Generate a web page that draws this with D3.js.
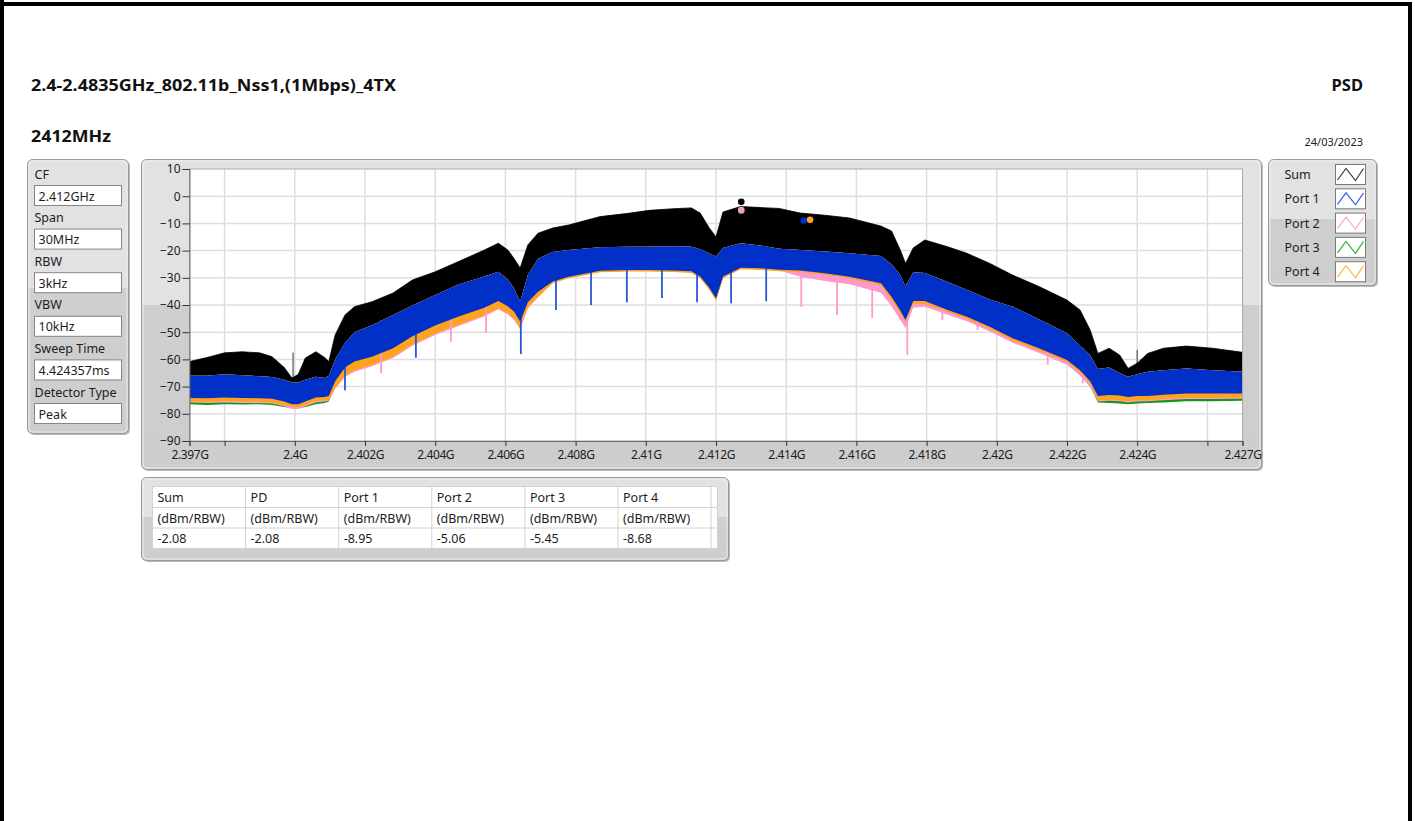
<!DOCTYPE html>
<html>
<head>
<meta charset="utf-8">
<script src="https://cdn.jsdelivr.net/npm/d3@7"></script>
<style>
  html, body { margin: 0; padding: 0; background: #ffffff; }
  svg { display: block; font-family: "Noto Sans", "Open Sans", sans-serif; }
</style>
</head>
<body>
<svg id="chart" width="1415" height="821"></svg>
<script>
// ---- Spectrum data (frequency in MHz, levels in dBm/RBW) ----
const freqMHz = [2397.00, 2397.5, 2398.0, 2398.5, 2399.0, 2399.35, 2399.7, 2399.92, 2400.1, 2400.3,
  2400.6, 2400.85, 2400.97, 2401.15, 2401.43, 2401.7, 2402.2, 2402.8, 2403.35, 2404.0,
  2404.65, 2405.4, 2405.8, 2406.07, 2406.25, 2406.42, 2406.64, 2406.93, 2407.35, 2407.8,
  2408.7, 2409.5, 2410.1, 2410.8, 2411.3, 2411.55, 2411.8, 2412.0, 2412.2, 2412.7,
  2413.3, 2413.8, 2414.4, 2415.1, 2415.8, 2416.7, 2417.0, 2417.25, 2417.4, 2417.62,
  2417.95, 2418.6, 2419.15, 2419.8, 2420.45, 2421.2, 2422.0, 2422.37, 2422.66, 2422.88,
  2423.2, 2423.5, 2423.74, 2424.0, 2424.3, 2424.75, 2425.4, 2426.15, 2427.0];

// Sum trace, upper envelope
const sumTop = [-60.8, -59.3, -57.6, -57.2, -57.6, -59, -63, -66.9, -65.5, -59.5,
  -57.2, -59.3, -60.8, -51, -43.7, -40.6, -38.8, -35.6, -30.8, -27.8,
  -24.1, -19.8, -17.3, -19.8, -23, -26.4, -17.9, -13.6, -11.7, -10.6,
  -7.5, -6.3, -5.2, -4.6, -4.3, -6.2, -11.5, -15, -5.8, -3.8,
  -4.2, -4.5, -6.2, -7, -8, -11, -12.8, -19.8, -24.7, -19,
  -16.1, -18.6, -21, -24.7, -29, -33.2, -38.2, -41.8, -49.2, -57.8,
  -55.9, -58.4, -63.3, -61.4, -57.8, -55.9, -55.1, -55.9, -57.4];

// Port 1 trace, upper and lower envelopes
const port1Top = [-66, -66, -65.5, -65.8, -66.2, -66.5, -67.5, -68.5, -68.5, -67.5,
  -66.4, -66.8, -66, -60, -54, -50, -47.4, -43.7, -40.2, -36.3,
  -32.6, -29.5, -27.8, -30.5, -34, -38.8, -29, -23, -20.5, -19.8,
  -18.8, -18.6, -18.6, -18.4, -18.6, -19.5, -21, -22.2, -19, -17.3,
  -18.2, -19.3, -19.8, -20.3, -21, -22, -25, -29, -33.3, -28,
  -28.2, -31.5, -34.5, -38, -40.6, -45.2, -50.4, -55, -58.5, -63.5,
  -63, -65, -66.4, -65.5, -64.5, -64, -63.3, -64, -64.5];
const port1Bottom = [-74.2, -74.3, -74, -74.2, -74.3, -74.5, -75.5, -76.5, -76.5, -75.5,
  -74, -73.8, -73.5, -68, -63, -60.8, -59, -55.9, -51.5, -47.5,
  -44.3, -41, -38.5, -40.5, -42.5, -46.1, -39, -35.1, -31.4, -29.6,
  -27.4, -27.1, -27.1, -27.3, -27.6, -29.5, -33.5, -37.5, -29.5, -26.3,
  -26.5, -27, -27.3, -28.3, -29.6, -32, -37, -42, -45.5, -38.5,
  -38.5, -41.8, -44.3, -48, -52.2, -55.9, -60.2, -64, -68, -73.5,
  -73.1, -73.3, -73.8, -73.5, -73.5, -73, -72.5, -72.5, -72.5];

// Ports 2-4, lower envelopes (their upper parts lie under Port 1)
const port2Bottom = [-75.8, -76, -75.8, -76, -76, -76.2, -77.2, -78.2, -78.2, -77.2,
  -75.8, -75.5, -75.2, -70.8, -66.5, -64.5, -62.5, -59.5, -55, -51,
  -47.8, -44.2, -41.6, -43.5, -45.5, -49, -41.2, -37.2, -31.7, -29.9,
  -27.7, -27.4, -27.4, -27.6, -27.9, -29.8, -33.8, -37.8, -29.8, -26.6,
  -26.8, -27.3, -29.6, -31.2, -32.4, -35.5, -40.5, -45.5, -48.5, -41,
  -40.6, -43.6, -46, -49.7, -53.9, -57.6, -62, -65.8, -70, -75.5,
  -75.2, -75.4, -75.8, -75.5, -75.4, -75, -74.6, -74.6, -74.5];
const port3Bottom = [-76.5, -76.8, -76.5, -76.6, -76.5, -76.8, -77.5, -78, -78, -77.5,
  -76.5, -76, -75.5, -70, -64.5, -62, -60, -56.8, -52.5, -48.5,
  -45.2, -41.8, -39.2, -41.2, -43.4, -47, -39.8, -35.9, -31.8, -30,
  -27.8, -27.5, -27.5, -27.7, -28, -29.9, -33.9, -37.9, -29.9, -26.7,
  -26.9, -27.4, -27.7, -28.7, -30, -32.4, -38.5, -43.2, -46.5, -39.6,
  -39.7, -43, -45.6, -49.4, -53.6, -57.4, -61.8, -65.8, -70, -75.8,
  -76, -76.2, -76.5, -76.2, -76, -75.8, -75.4, -75.4, -75.2];
const port4Bottom = [-75.5, -75.6, -75.3, -75.5, -75.6, -75.8, -76.8, -77.5, -77.6, -76.8,
  -75.3, -75, -74.8, -70.5, -66, -64, -62, -59, -54.5, -50.5,
  -47.3, -43.8, -41.2, -43, -45, -48.5, -41, -37, -32, -30.2,
  -28, -27.7, -27.7, -27.9, -28.2, -30.2, -34.3, -38.3, -30.2, -26.9,
  -27.1, -27.6, -27.9, -28.9, -30.2, -32.7, -38.2, -43, -46.6, -39.6,
  -39.6, -42.6, -45.1, -48.8, -53, -56.7, -61, -64.8, -68.8, -75,
  -74.8, -75, -75.4, -75, -75, -74.6, -74.1, -74.1, -74];

// Narrow downward spurs below the band
const spurFreq = [2401.43, 2402.46, 2403.45, 2404.45, 2405.45, 2406.44, 2407.44, 2408.44, 2409.46, 2410.46,
  2411.46, 2412.43, 2413.43, 2414.43, 2415.45, 2416.45, 2417.45, 2418.45, 2419.45, 2420.45, 2421.45, 2422.45];
const spurLevel = [-71.3, -65, -59.4, -53.6, -50.3, -58, -41.8, -40, -39, -37.4,
  -39, -39.4, -38.6, -40.7, -43.7, -44.8, -58.4, -45.5, -49.2, -53.5, -62, -68.8];
const spurPort = [1, 2, 1, 2, 2, 1, 1, 1, 1, 1, 1, 1, 1, 2, 2, 2, 2, 2, 2, 4, 2, 2];

// Short upward glitches on the Sum envelope
const sumGlitchFreq = [2399.95, 2424.0];
const sumGlitchLevel = [-57.5, -56.5];

// Peak markers
const markerPort = [0, 3, 2, 1, 4];
const markerFreq = [2412.72, 2412.72, 2412.72, 2414.5, 2414.68];
const markerLevel = [-2.08, -5.45, -5.06, -8.95, -8.68];

// Series names and colours
const seriesNames = ["Sum", "Port 1", "Port 2", "Port 3", "Port 4"];
const seriesColors = ["#000000", "#0030c8", "#ff99cc", "#119911", "#ffa31a"];
const legendColors = ["#3a3a3a", "#3a5ee6", "#ffa6d6", "#38b038", "#ffb44a"];

// Axis ticks
const yTicks = [10, 0, -10, -20, -30, -40, -50, -60, -70, -80, -90];
const xTicks = [2397, 2398, 2400, 2402, 2404, 2406, 2408, 2410, 2412, 2414, 2416, 2418, 2420, 2422, 2424, 2426, 2427];
const xTickLabels = ["2.397G", "", "2.4G", "2.402G", "2.404G", "2.406G", "2.408G", "2.41G", "2.412G",
  "2.414G", "2.416G", "2.418G", "2.42G", "2.422G", "2.424G", "", "2.427G"];

// Instrument settings
const settingLabels = ["CF", "Span", "RBW", "VBW", "Sweep Time", "Detector Type"];
const settingValues = ["2.412GHz", "30MHz", "3kHz", "10kHz", "4.424357ms", "Peak"];

// Result table
const tableHeader = ["Sum", "PD", "Port 1", "Port 2", "Port 3", "Port 4"];
const tableUnits = ["(dBm/RBW)", "(dBm/RBW)", "(dBm/RBW)", "(dBm/RBW)", "(dBm/RBW)", "(dBm/RBW)"];
const tableValues = ["-2.08", "-2.08", "-8.95", "-5.06", "-5.45", "-8.68"];

// ---- Drawing ----
const svg = d3.select("#chart");
const textColor = "#1f1b24";
const defs = svg.append("defs");

const grad = defs.append("linearGradient").attr("id", "panelFill")
  .attr("x1", 0).attr("y1", 0).attr("x2", 0).attr("y2", 1);
[["0%", "#e2e2e2"], ["47%", "#e2e2e2"], ["47%", "#cfcfcf"], ["100%", "#cdcdcd"]]
  .forEach(([o, c]) => grad.append("stop").attr("offset", o).attr("stop-color", c));

// Page frame
svg.append("rect").attr("x", 0).attr("y", 0).attr("width", 1415).attr("height", 821).attr("fill", "#fff");
svg.append("rect").attr("x", 0).attr("y", 2).attr("width", 1412).attr("height", 4).attr("fill", "#000");
svg.append("rect").attr("x", 0).attr("y", 0).attr("width", 4).attr("height", 821).attr("fill", "#000");
svg.append("rect").attr("x", 1408).attr("y", 2).attr("width", 4).attr("height", 819).attr("fill", "#000");

// Headings
svg.append("text").attr("x", 31).attr("y", 91).attr("font-size", 16.5).attr("font-weight", 700)
  .attr("fill", "#111").attr("textLength", 365).attr("lengthAdjust", "spacingAndGlyphs")
  .text("2.4-2.4835GHz_802.11b_Nss1,(1Mbps)_4TX");
svg.append("text").attr("x", 1363).attr("y", 91).attr("font-size", 16.5).attr("font-weight", 700)
  .attr("fill", "#111").attr("text-anchor", "end").text("PSD");
svg.append("text").attr("x", 31).attr("y", 142).attr("font-size", 16).attr("font-weight", 700)
  .attr("fill", "#111").attr("textLength", 80).attr("lengthAdjust", "spacingAndGlyphs").text("2412MHz");
svg.append("text").attr("x", 1363).attr("y", 146).attr("font-size", 11).attr("fill", "#222")
  .attr("text-anchor", "end").text("24/03/2023");

function panel(x0, y0, w, h) {
  svg.append("rect").attr("x", x0 + 1.5).attr("y", y0 + 1.5).attr("width", w).attr("height", h)
    .attr("rx", 5).attr("fill", "#b9b9b9");
  svg.append("rect").attr("x", x0).attr("y", y0).attr("width", w).attr("height", h)
    .attr("rx", 5).attr("fill", "url(#panelFill)").attr("stroke", "#9a9a9a").attr("stroke-width", 1);
  svg.append("rect").attr("x", x0 + 1.5).attr("y", y0 + 1.5).attr("width", w - 3).attr("height", h - 3)
    .attr("rx", 4).attr("fill", "none").attr("stroke", "#f4f4f4").attr("stroke-opacity", 0.8);
}

// Settings panel
panel(27.5, 159.5, 101, 274);
const rowStep = 43.6;
settingLabels.forEach((lab, i) => {
  const top = 166 + i * rowStep;
  svg.append("text").attr("x", 34.5).attr("y", top + 12.5).attr("font-size", 12.5).attr("fill", textColor).text(lab);
  svg.append("rect").attr("x", 34.5).attr("y", top + 19.5).attr("width", 87).attr("height", 20)
    .attr("fill", "#fff").attr("stroke", "#858585");
  svg.append("text").attr("x", 38.5).attr("y", top + 34.5).attr("font-size", 12.5).attr("fill", textColor).text(settingValues[i]);
});

// Graph panel and plot area
panel(141.5, 159.5, 1120, 310);
const plotL = 189.5, plotR = 1242.5, plotT = 169, plotB = 441;
const x = d3.scaleLinear().domain([2397, 2427]).range([plotL, plotR]);
const y = d3.scaleLinear().domain([-90, 10]).range([plotB, plotT]);

svg.append("rect").attr("x", plotL).attr("y", plotT).attr("width", plotR - plotL).attr("height", plotB - plotT)
  .attr("fill", "#fff");

const grid = svg.append("g").attr("stroke", "#dedede").attr("stroke-width", 1.5);
grid.selectAll("line.h").data(yTicks.slice(1, -1)).join("line")
  .attr("x1", plotL).attr("x2", plotR).attr("y1", d => y(d)).attr("y2", d => y(d));
grid.selectAll("line.v").data(xTicks.slice(1, -1)).join("line")
  .attr("y1", plotT).attr("y2", plotB).attr("x1", d => x(d)).attr("x2", d => x(d));

const plot = svg.append("g");
const idx = d3.range(freqMHz.length);
const band = (lo, hi) => d3.area().x(i => x(freqMHz[i])).y0(i => y(lo[i])).y1(i => y(hi[i]));

// Sum glitches, then the Sum trace filled from its envelope down to the Port 1 floor
const sumTopAt = d3.scaleLinear().domain(freqMHz).range(sumTop);
plot.selectAll("line.glitch").data(d3.range(sumGlitchFreq.length)).join("line")
  .attr("x1", i => x(sumGlitchFreq[i])).attr("x2", i => x(sumGlitchFreq[i]))
  .attr("y1", i => y(sumGlitchLevel[i])).attr("y2", i => y(sumTopAt(sumGlitchFreq[i])) + 2)
  .attr("stroke", "#555").attr("stroke-width", 1.2);
plot.append("path").datum(idx).attr("d", band(port1Bottom, sumTop)).attr("fill", seriesColors[0])
  .attr("stroke", seriesColors[0]).attr("stroke-width", 0.8);
// Ports 3, 2, 4 beneath Port 1
[[port3Bottom, 3], [port2Bottom, 2], [port4Bottom, 4]].forEach(([lo, s]) => {
  plot.append("path").datum(idx).attr("d", band(lo, port1Top)).attr("fill", seriesColors[s]);
});

// Spurs
const bandTopAt = d3.scaleLinear().domain(freqMHz).range(port1Top);
plot.selectAll("line.spur").data(d3.range(spurFreq.length)).join("line")
  .attr("x1", i => x(spurFreq[i])).attr("x2", i => x(spurFreq[i]))
  .attr("y1", i => y(spurLevel[i])).attr("y2", i => y(bandTopAt(spurFreq[i])))
  .attr("stroke", i => spurPort[i] === 1 ? "#2a55d6" : seriesColors[spurPort[i]]).attr("stroke-width", 1.8);

// Port 1 band on top
plot.append("path").datum(idx).attr("d", band(port1Bottom, port1Top)).attr("fill", seriesColors[1]);

// Markers
plot.selectAll("circle.mk").data(d3.range(markerPort.length)).join("circle")
  .attr("cx", i => x(markerFreq[i])).attr("cy", i => y(markerLevel[i])).attr("r", 3.3)
  .attr("fill", i => seriesColors[markerPort[i]]);

// Plot frame
svg.append("rect").attr("x", plotL).attr("y", plotT).attr("width", plotR - plotL).attr("height", plotB - plotT)
  .attr("fill", "none").attr("stroke", "#a9a9a9");

// Axes
const yAxis = svg.append("g").attr("transform", `translate(${plotL},0)`)
  .call(d3.axisLeft(y).tickValues(yTicks).tickFormat(d3.format("d")).tickSize(7).tickPadding(2));
const xAxis = svg.append("g").attr("transform", `translate(0,${plotB})`)
  .call(d3.axisBottom(x).tickValues(xTicks).tickFormat((d, i) => xTickLabels[i]).tickSize(5).tickPadding(4));
[yAxis, xAxis].forEach(a => {
  a.select(".domain").attr("stroke", "#6a6a6a");
  a.selectAll(".tick line").attr("stroke", "#333");
  a.selectAll(".tick text").attr("fill", textColor).attr("font-size", 12)
    .attr("font-family", "\"Noto Sans\", sans-serif");
});
xAxis.selectAll(".tick text").attr("letter-spacing", -0.4);

// Legend
panel(1268.5, 159.5, 108, 126);
seriesNames.forEach((name, i) => {
  const cy = 174.5 + i * 24.3;
  svg.append("text").attr("x", 1284.5).attr("y", cy + 4.5).attr("font-size", 12.5).attr("fill", textColor).text(name);
  const sx = 1335.5, sy = cy - 10;
  svg.append("rect").attr("x", sx).attr("y", sy).attr("width", 30).attr("height", 20)
    .attr("fill", "#fff").attr("stroke", "#7a7a7a");
  svg.append("polyline")
    .attr("points", [[sx + 2, sy + 15.5], [sx + 10.5, sy + 4], [sx + 20, sy + 16], [sx + 28, sy + 4]].map(p => p.join(",")).join(" "))
    .attr("fill", "none").attr("stroke", legendColors[i]).attr("stroke-width", 1.2);
});

// Result table
panel(141.5, 477.5, 587, 83);
const colX = d3.range(7).map(i => 152.5 + i * 93.1);
const rowY = [486.5, 507.5, 528, 548.5];
svg.append("rect").attr("x", 152.5).attr("y", rowY[0]).attr("width", 565).attr("height", rowY[3] - rowY[0])
  .attr("fill", "#fff");
const tl = svg.append("g").attr("stroke", "#d2d2d2").attr("stroke-width", 1);
rowY.forEach(r => tl.append("line").attr("x1", 152.5).attr("x2", 717.5).attr("y1", r).attr("y2", r));
colX.concat([717.5]).forEach(c => tl.append("line").attr("x1", c).attr("x2", c).attr("y1", rowY[0]).attr("y2", rowY[3]));
[tableHeader, tableUnits, tableValues].forEach((row, r) => {
  row.forEach((t, c) => {
    svg.append("text").attr("x", colX[c] + 5).attr("y", rowY[r] + 15).attr("font-size", 12.5)
      .attr("fill", textColor).text(t);
  });
});
</script>
</body>
</html>
